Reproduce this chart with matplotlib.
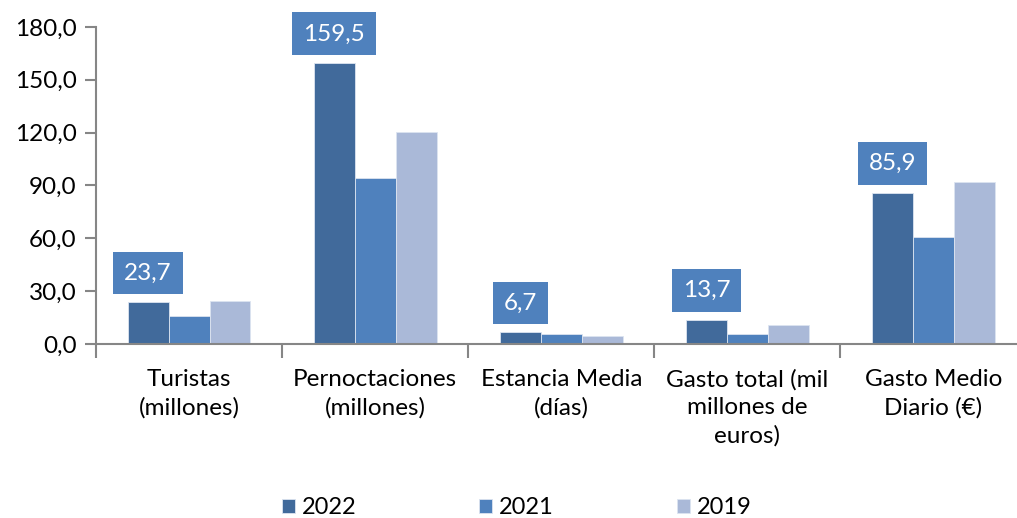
import matplotlib.pyplot as plt
import numpy as np

plt.rcParams['font.family'] = ['Lato', 'DejaVu Sans']

# Datos
categorias = ["Turistas\n(millones)", "Pernoctaciones\n(millones)", "Estancia Media\n(días)",
              "Gasto total (mil\nmillones de\neuros)", "Gasto Medio\nDiario (€)"]
v2022 = [23.7, 159.5, 6.7, 13.7, 85.9]
v2021 = [15.7, 94.3, 5.7, 5.7, 60.6]
v2019 = [24.2, 120.4, 4.7, 11.0, 92.0]
anios = ["2022", "2021", "2019"]
colores = ["#416A9B", "#4F81BD", "#AAB9D8"]

fig = plt.figure(figsize=(10.17, 5.18), dpi=100)
ax = fig.add_axes([0.0944, 0.336, 0.915, 0.612])

x = np.arange(len(categorias))
w = 0.22
barras = []
for i, (vals, c) in enumerate(zip([v2022, v2021, v2019], colores)):
    b = ax.bar(x + (i - 1) * w, vals, w, color=c, edgecolor="#DCE4F0", linewidth=0.6,
               label=anios[i])
    barras.append(b)

# Etiquetas de 2022 en recuadro azul
for xi, v in zip(x, v2022):
    ax.annotate(f"{v:.1f}".replace(".", ","), (xi - w, v), xytext=(0, 21),
                textcoords="offset points", ha="center", va="center",
                color="white", fontsize=17.5,
                bbox=dict(boxstyle="square,pad=0.45", fc="#4F81BD", ec="none"))

ax.set_xlim(-0.5, len(categorias) - 0.5)
ax.set_ylim(0, 180)
ax.set_yticks(np.arange(0, 181, 30))
ax.set_yticklabels([f"{t:.1f}".replace(".", ",") for t in np.arange(0, 181, 30)], fontsize=17.5)

ax.set_xticks(np.arange(-0.5, len(categorias), 1))
ax.set_xticklabels([])
ax.set_xticks(x, minor=True)
ax.set_xticklabels(categorias, minor=True, fontsize=17.5, linespacing=1.38)
ax.tick_params(axis="x", which="minor", length=0, pad=18)
ax.tick_params(axis="x", which="major", length=10, color="#868686", width=1.5)
ax.tick_params(axis="y", length=8, color="#868686", width=1.5, pad=6)

for s in ["top", "right"]:
    ax.spines[s].set_visible(False)
for s in ["left", "bottom"]:
    ax.spines[s].set_color("#868686")
    ax.spines[s].set_linewidth(1.5)

fig.legend(handles=barras, labels=anios, loc="center", bbox_to_anchor=(0.508, 0.02),
           ncol=3, frameon=False, fontsize=17, handlelength=0.55, handleheight=0.55,
           handletextpad=0.3, columnspacing=5.2)

plt.savefig("out.png", dpi=100)
